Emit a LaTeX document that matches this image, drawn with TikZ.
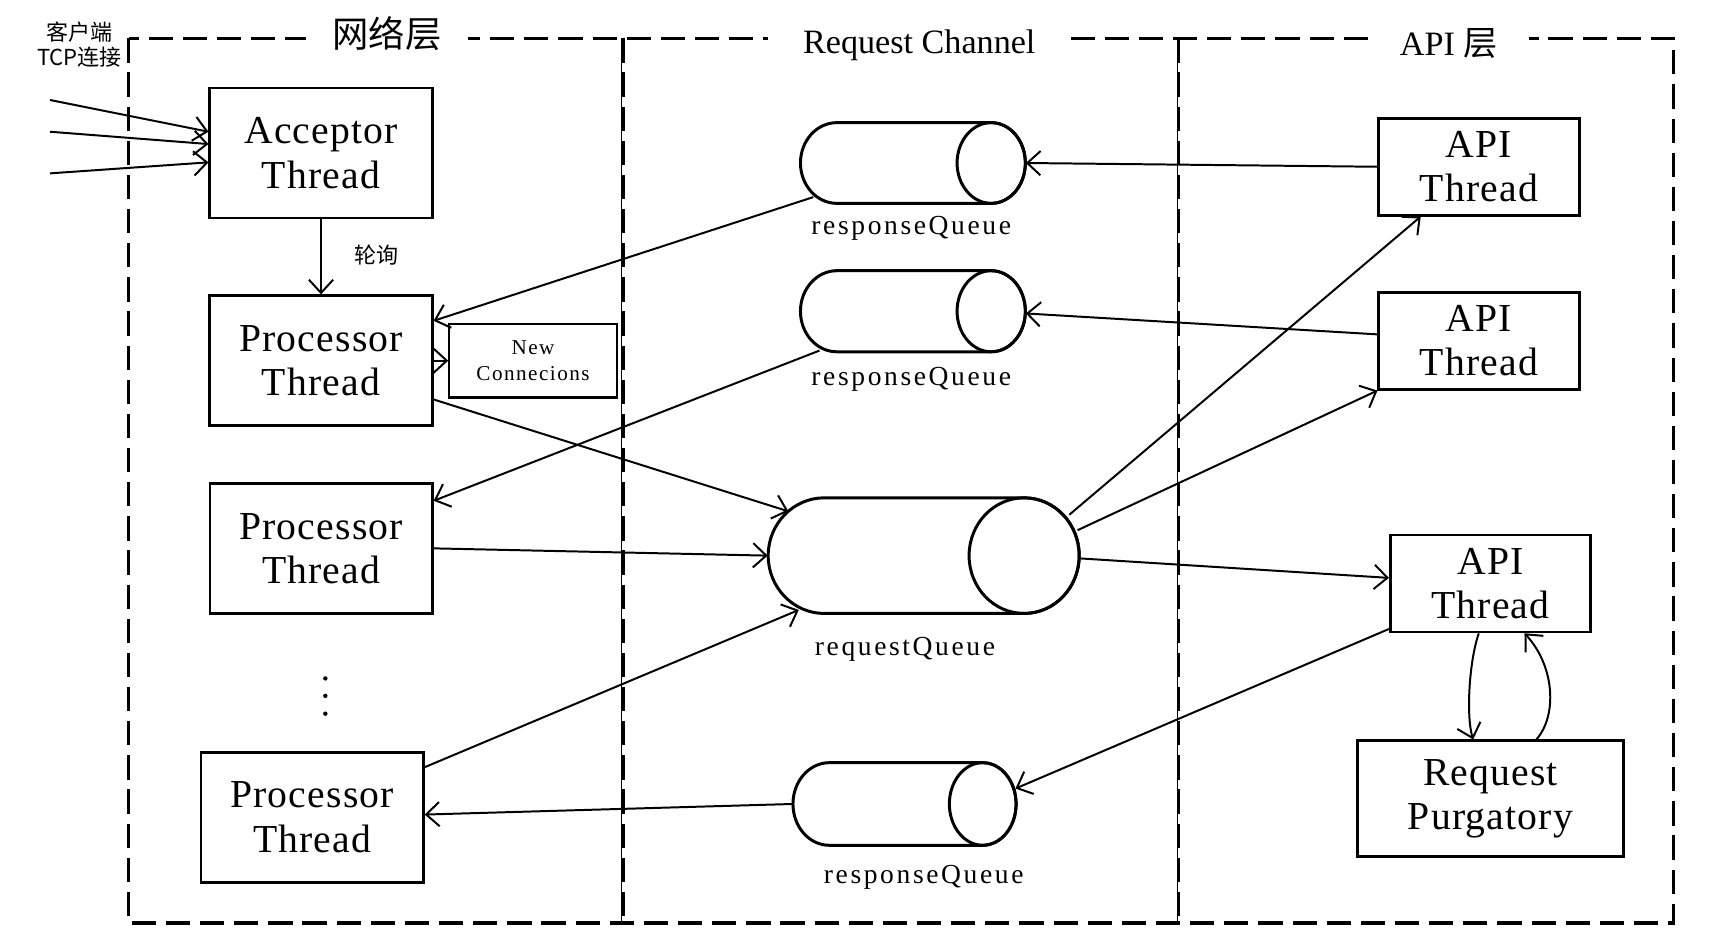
\documentclass[tikz,border=0pt]{standalone}
\usepackage{fontspec}
\setmainfont{Liberation Serif}
\newfontfamily\cjk{Noto Sans CJK SC}
\newfontfamily\lsA[LetterSpace=3]{Liberation Serif}
\newfontfamily\lsB[LetterSpace=9.5]{Liberation Serif}
\newfontfamily\lsC[LetterSpace=7]{Liberation Serif}
\usetikzlibrary{arrows.meta,calc}
\newcommand{\upx}{0.5pt}
\newcommand{\boxfont}{\lsA\fontsize{18}{20}\selectfont}
\newcommand{\qfont}{\lsB\fontsize{12.5}{14}\selectfont}
\newcommand{\ncfont}{\lsC\fontsize{9.6}{12.2}\selectfont}
\newcommand{\drawqueue}[7]{%
  \node[qnode, minimum width=#4*\upx, minimum height=#5*\upx] (#1) at (#2,#3) {};
  \pgfmathsetmacro\qL{#2-#4/2}\pgfmathsetmacro\qR{#2+#4/2}%
  \pgfmathsetmacro\qT{#3-#5/2}\pgfmathsetmacro\qB{#3+#5/2}\pgfmathsetmacro\qry{#5/2}%
  \draw[qline] (\qL+#7,\qT) -- (\qR-#6,\qT) arc[start angle=-90,end angle=90,x radius=#6,y radius=\qry] -- (\qL+#7,\qB) arc[start angle=90,end angle=270,x radius=#7,y radius=\qry] -- cycle;
  \draw[qline] (\qR-#6,#3) ellipse[x radius=#6, y radius=\qry];
}
\tikzset{
  box/.style={draw, line width=1.2pt, minimum width=202*\upx, minimum height=118*\upx, inner sep=0pt, align=center, font=\boxfont},
  conn/.style={line width=0.9pt, -{Straight Barb[length=6pt,width=11pt]}},
  qline/.style={line width=1.35pt},
  qnode/.style={inner sep=0pt, draw=none},
  qlabel/.style={anchor=base, font=\qfont, inner sep=0pt},
  frame/.style={line width=1.5pt, dash pattern=on 11pt off 4.5pt},
  thinline/.style={line width=0.4pt},
  title/.style={fill=white, inner ysep=2pt},
}
\begin{document}
\begin{tikzpicture}[x=0.5pt,y=-0.5pt]
\useasboundingbox (0,0) rectangle (1569,863);
% frames
\draw[frame] (116.8,34.8) rectangle (1519.2,838);
\draw[frame] (565.6,34.8) -- (565.6,838);
\draw[frame] (1070.3,34.8) -- (1070.3,838);
\draw[thinline] (564,34.8) -- (564,838);
\draw[thinline] (1068.8,34.8) -- (1068.8,838);
% titles
\node[title, inner xsep=12pt, font=\cjk\fontsize{16.5}{18}\selectfont] (t1) at (351.5,30.3) {网络层};
\node[title, inner xsep=16pt, anchor=base, font=\fontsize{15.5}{18}\selectfont] (t2) at (834.7,48.4) {Request Channel};
\node[title, inner xsep=14pt, anchor=base, font=\fontsize{15.5}{18}\selectfont] (t3) at (1315.5,50) {API {\cjk 层}};
% client label
\node[font=\cjk\fontsize{10}{11.6}\selectfont, align=center, inner sep=0pt] (client) at (72.2,40.4) {客户端\\TCP连接};
% boxes
\node[box] (acc) at (291.5,139) {Acceptor\\Thread};
\node[box] (proc1) at (291.5,327.5) {Processor\\Thread};
\node[box] (proc2) at (291.6,497.9) {Processor\\Thread};
\node[box] (proc3) at (283.4,742) {Processor\\Thread};
\node[box, line width=1pt, minimum width=152*\upx, minimum height=67*\upx, font=\ncfont] (nc) at (484,327.5) {New\\Connecions};
\node[box, minimum width=182*\upx, minimum height=88*\upx] (api1) at (1342.9,151.4) {API\\Thread};
\node[box, minimum width=182*\upx, minimum height=88*\upx] (api2) at (1342.9,309.4) {API\\Thread};
\node[box, minimum width=182*\upx, minimum height=88*\upx] (api3) at (1353.3,529.8) {API\\Thread};
\node[box, minimum width=242*\upx, minimum height=105*\upx] (purg) at (1353.3,725.1) {Request\\Purgatory};
\node[font=\cjk\fontsize{10}{12}\selectfont, inner sep=0pt] (poll) at (342,232) {轮询};
% dots
\fill (295.4,616) circle[radius=2];
\fill (295.4,631.8) circle[radius=2];
\fill (295.4,648) circle[radius=2];
% queues
\drawqueue{rq1}{828.9}{148}{204.2}{73.3}{31}{33}
\drawqueue{rq2}{828.9}{282.6}{204.2}{73.6}{31}{33}
\drawqueue{reqq}{838.7}{504.5}{282.4}{105}{50}{51}
\drawqueue{rq3}{821.3}{730}{202.6}{75}{30.3}{33}
\node[qlabel] (lrq1) at (827.4,212.8) {responseQueue};
\node[qlabel] (lrq2) at (827.4,349.7) {responseQueue};
\node[qlabel] (lreq) at (821.7,594.9) {requestQueue};
\node[qlabel] (lrq3) at (838.7,802.3) {responseQueue};
% incoming connections
\coordinate (in1) at (45.4,90.8);
\coordinate (in2) at (45.4,119.6);
\coordinate (in3) at (45.4,157.4);
\draw[conn] (in1) -- ($(acc.west)+(0,-19.4)$);
\draw[conn] (in2) -- ($(acc.west)+(0,-8.2)$);
\draw[conn] (in3) -- ($(acc.west)+(0,8.4)$);
% connectors
\draw[conn] (acc.south) -- (proc1.north);
\draw[conn] (proc1.east) -- (nc.west);
\draw[conn] (api1.west) -- (rq1.east);
\draw[conn] ($(rq1.south west)+(12.1,-6.1)$) -- ($(proc1.north east)+(0,24)$);
\draw[conn] ($(api2.west)+(0,-5.8)$) -- ($(rq2.east)+(0,2)$);
\draw[conn] ($(rq2.south west)+(17.7,-1.5)$) -- ($(proc2.north east)+(0,17)$);
\draw[conn] ($(proc1.south east)+(0,-25)$) -- ($(reqq.north west)+(18.8,12.7)$);
\draw[conn] (proc2.east) -- (reqq.west);
\draw[conn] ($(proc3.north east)+(0,14.8)$) -- ($(reqq.south west)+(28.2,-3.6)$);
\draw[conn] ($(reqq.north east)+(-9.4,15.8)$) -- ($(api1.south)+(-52.9,0)$);
\draw[conn] ($(reqq.east)+(-1.9,-23.1)$) -- (api2.south west);
\draw[conn] ($(reqq.east)+(0,2.5)$) -- ($(api3.west)+(0,-5.1)$);
\draw[conn] ($(api3.south west)+(0,-3.9)$) -- ($(rq3.east)+(-1,-14)$);
\draw[conn] (rq3.west) -- ($(proc3.east)+(0,-2.4)$);
\draw[conn] ($(api3.south)+(-10.6,0)$) .. controls (1334,600) and (1331,650) .. ($(purg.north)+(-15.7,0)$);
\draw[conn] ($(purg.north)+(41.7,0)$) .. controls (1414,650) and (1412,605) .. ($(api3.south)+(30.9,0)$);
\end{tikzpicture}
\end{document}
